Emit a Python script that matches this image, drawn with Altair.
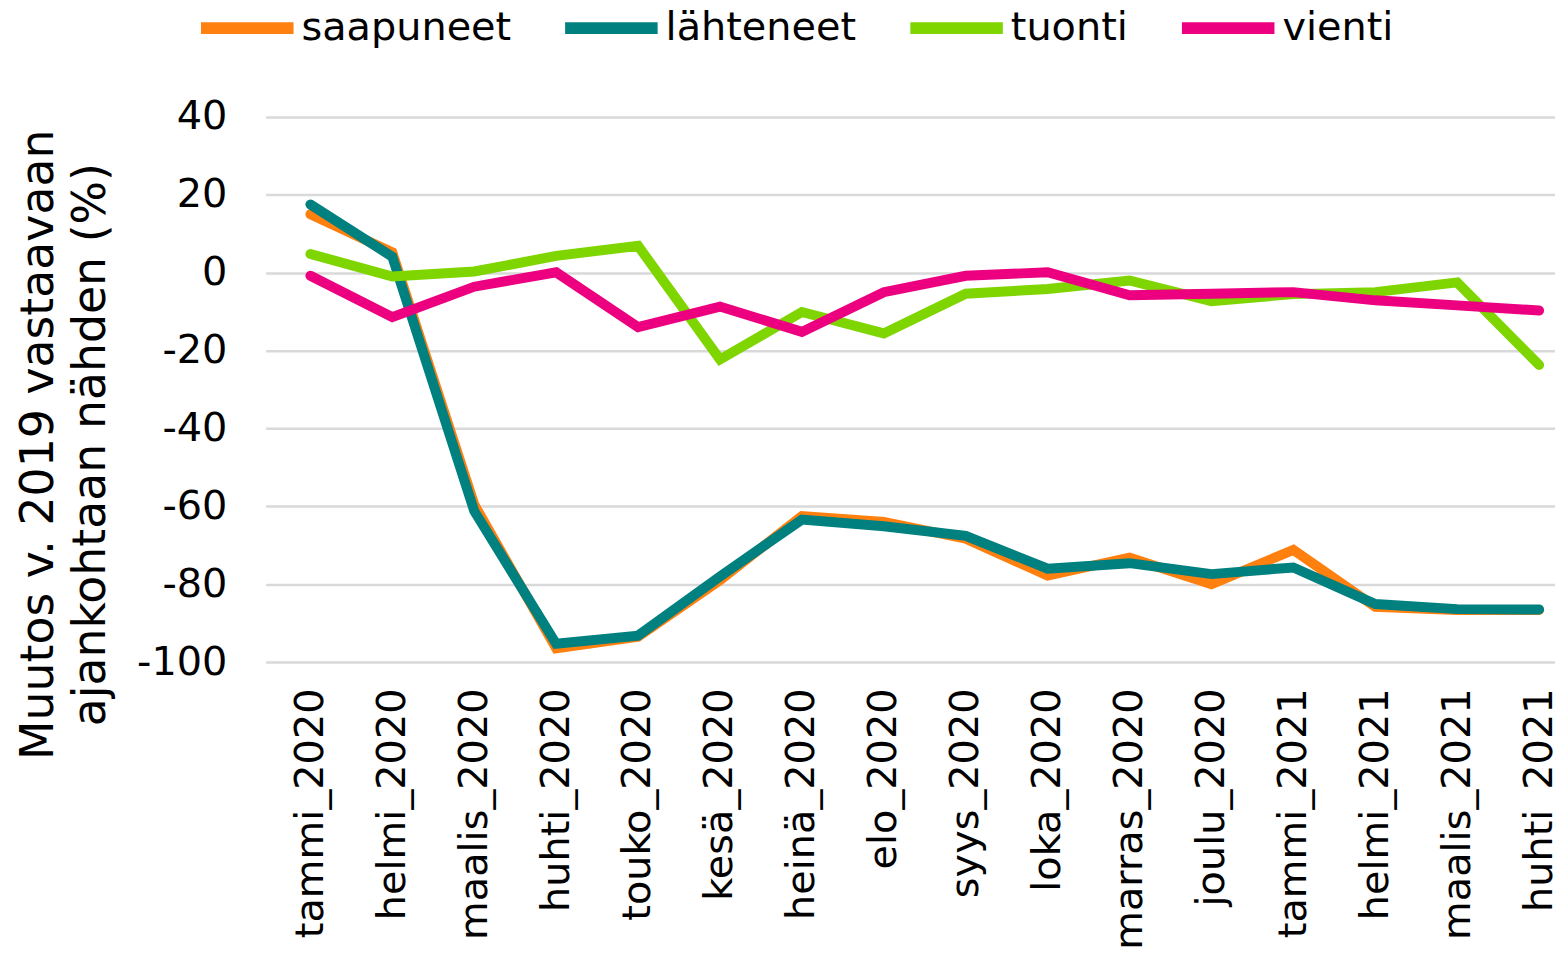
import altair as alt
import pandas as pd

months = ["tammi_2020", "helmi_2020", "maalis_2020", "huhti_2020", "touko_2020",
          "kesä_2020", "heinä_2020", "elo_2020", "syys_2020", "loka_2020",
          "marras_2020", "joulu_2020", "tammi_2021", "helmi_2021", "maalis_2021",
          "huhti_2021"]

saapuneet = [15, 5.2, -59.5, -96.5, -93.5, -79, -62.5, -64, -68.3, -77.8,
             -73.2, -80, -71.2, -85.8, -86.6, -86.6]
lahteneet = [17.5, 4.1, -61.2, -95.3, -93.2, -78, -63.4, -65.1, -67.6, -76,
             -74.6, -77.4, -75.7, -85.1, -86.4, -86.5]
tuonti = [4.8, -1, 0.3, 4.3, 6.9, -22.3, -10.1, -15.6, -5.4, -4.2,
          -2, -7.3, -5.5, -5, -2.5, -23.7]
vienti = [-0.8, -11.4, -3.6, 0.1, -14, -8.7, -15.2, -5, -0.8, 0.1,
          -5.8, -5.4, -5, -7.1, -8.4, -9.7]

series_names = ["saapuneet", "lähteneet", "tuonti", "vienti"]
series_colors = ["#FF7F0F", "#00807F", "#7FD500", "#EC0080"]
y_ticks = [40, 20, 0, -20, -40, -60, -80, -100]

rows = []
for name, vals in zip(series_names, [saapuneet, lahteneet, tuonti, vienti]):
    for m, v in zip(months, vals):
        rows.append({"kuukausi": m, "sarja": name, "arvo": v})
df = pd.DataFrame(rows)

FONT = "DejaVu Sans"

chart = alt.Chart(df).mark_line(strokeWidth=10, strokeCap="round").encode(
    x=alt.X("kuukausi:N", sort=months,
            scale=alt.Scale(type="point", padding=0.37, align=0.738),
            axis=alt.Axis(title=None, labelAngle=-90, labelFontSize=40,
                          labelFont=FONT, labelColor="#000000", labelPadding=26,
                          labelLimit=0, ticks=False, domain=False, grid=False)),
    y=alt.Y("arvo:Q",
            scale=alt.Scale(domain=[-100, 40], nice=False, zero=False),
            axis=alt.Axis(values=y_ticks, title=["Muutos v. 2019 vastaavaan",
                                                  "ajankohtaan nähden (%)"],
                          labelExpr="'' + datum.value",
                          titleFontSize=46, titleFont=FONT, titleFontWeight="normal",
                          titleColor="#000000", titleLineHeight=52,
                          titleBaseline="alphabetic", titleX=-214, titleY=329,
                          titleAngle=270, titleAlign="center",
                          labelFontSize=40, labelFont=FONT, labelColor="#000000",
                          labelPadding=39, ticks=False, domain=False,
                          grid=True, gridColor="#D9D9D9", gridWidth=2.5)),
    color=alt.Color("sarja:N", sort=series_names,
                    scale=alt.Scale(domain=series_names, range=series_colors),
                    legend=alt.Legend(title=None, orient="none", direction="horizontal",
                                      legendX=-71, legendY=-142, columns=4,
                                      symbolType="stroke", symbolSize=8649,
                                      symbolStrokeWidth=12, labelFontSize=40,
                                      labelFont=FONT, labelColor="#000000",
                                      labelOffset=2, labelLimit=0,
                                      columnPadding=30, padding=0)),
    order=alt.Order("sarja_idx:Q"),
).transform_calculate(
    sarja_idx="indexof(['saapuneet','lähteneet','tuonti','vienti'], datum.sarja)"
).properties(
    width=1296, height=548,
    autosize=alt.AutoSizeParams(type="none"),
    padding={"left": 259, "top": 107, "right": 0, "bottom": 303},
).configure(background="#FFFFFF").configure_view(stroke=None)

chart.save("out.html", embed_options={"renderer": "svg", "actions": False})
